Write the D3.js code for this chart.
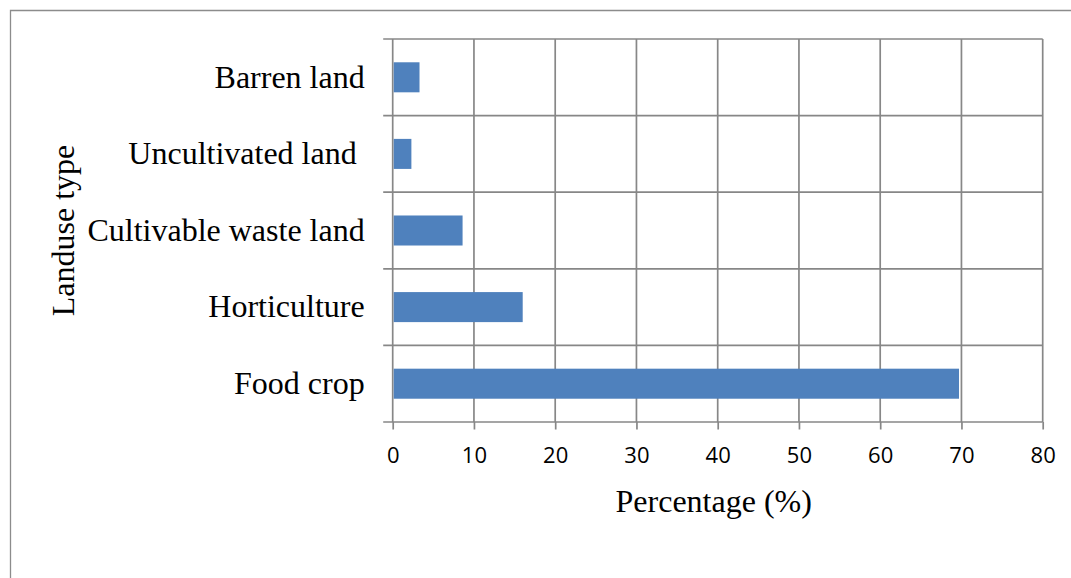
<!DOCTYPE html>
<html>
<head>
<meta charset="utf-8">
<script src="https://cdn.jsdelivr.net/npm/d3@7"></script>
<style>
  html, body { margin: 0; padding: 0; background: #fff; }
  svg { display: block; }
</style>
</head>
<body>
<svg id="chart" width="1071" height="578"></svg>
<script>
// Land use shares (%), listed top to bottom
const categories = ["Barren land", "Uncultivated land ", "Cultivable waste land", "Horticulture", "Food crop"];
const values = [3.3, 2.3, 8.6, 16.0, 69.7];
const xTicks = [0, 10, 20, 30, 40, 50, 60, 70, 80];
const xLabel = "Percentage (%)";
const yLabel = "Landuse type";

const svg = d3.select("#chart");
const W = 1071, H = 578;
const plot = { left: 392.7, right: 1042.7, top: 39, bottom: 422 };
const gridColor = "#878787";
const serif = "'Liberation Serif', 'Times New Roman', serif";

// Frame around the figure (top and left edges)
svg.append("path")
  .attr("d", `M10.5,${H} V10.5 H${W}`)
  .attr("fill", "none")
  .attr("stroke", "#8c8c8c")
  .attr("stroke-width", 1.3);

const x = d3.scaleLinear().domain([0, 80]).range([plot.left, plot.right]);
const y = d3.scaleBand()
  .domain(categories)
  .range([plot.top, plot.bottom])
  .paddingInner(0.608)
  .paddingOuter(0.304);

const step = y.step();
const boundaries = d3.range(categories.length + 1).map(i => plot.top + i * step);

// Horizontal gridlines at category boundaries, extended left as tick marks
svg.append("g").selectAll("line")
  .data(boundaries)
  .join("line")
  .attr("x1", plot.left - 9.5).attr("x2", plot.right)
  .attr("y1", d => d).attr("y2", d => d)
  .attr("stroke", gridColor).attr("stroke-width", 1.7);

// Vertical gridlines
svg.append("g").selectAll("line")
  .data(xTicks)
  .join("line")
  .attr("x1", d => x(d)).attr("x2", d => x(d))
  .attr("y1", plot.top).attr("y2", plot.bottom)
  .attr("stroke", gridColor).attr("stroke-width", 1.7);

// Bottom axis with outward ticks
const xAxis = svg.append("g")
  .attr("transform", `translate(0,${plot.bottom})`)
  .call(d3.axisBottom(x).tickValues(xTicks).tickSize(7.5).tickPadding(18).tickFormat(d3.format("d")));
xAxis.select(".domain").remove();
xAxis.selectAll(".tick line").attr("stroke", gridColor).attr("stroke-width", 1.7);
xAxis.selectAll(".tick text")
  .attr("font-family", "'Open Sans', sans-serif")
  .attr("font-size", 22)
  .attr("fill", "#000");

// Bars
svg.append("g").selectAll("rect")
  .data(values)
  .join("rect")
  .attr("x", x(0) + 1)
  .attr("y", (d, i) => y(categories[i]))
  .attr("width", d => x(d) - x(0) - 1)
  .attr("height", y.bandwidth())
  .attr("fill", "#4f81bd");

// Category labels
const yAxis = svg.append("g")
  .attr("transform", `translate(${plot.left},0)`)
  .call(d3.axisLeft(y).tickSize(0).tickPadding(28));
yAxis.select(".domain").remove();
yAxis.selectAll(".tick text")
  .attr("font-family", serif)
  .attr("font-size", 32)
  .attr("fill", "#000")
  .style("white-space", "pre");

// Axis titles
svg.append("text")
  .attr("x", (plot.left + plot.right) / 2 - 4)
  .attr("y", 512)
  .attr("text-anchor", "middle")
  .attr("font-family", serif)
  .attr("font-size", 32)
  .attr("fill", "#000")
  .text(xLabel);

svg.append("text")
  .attr("transform", `translate(73.5,${(plot.top + plot.bottom) / 2}) rotate(-90)`)
  .attr("text-anchor", "middle")
  .attr("font-family", serif)
  .attr("font-size", 32)
  .attr("fill", "#000")
  .text(yLabel);
</script>
</body>
</html>
